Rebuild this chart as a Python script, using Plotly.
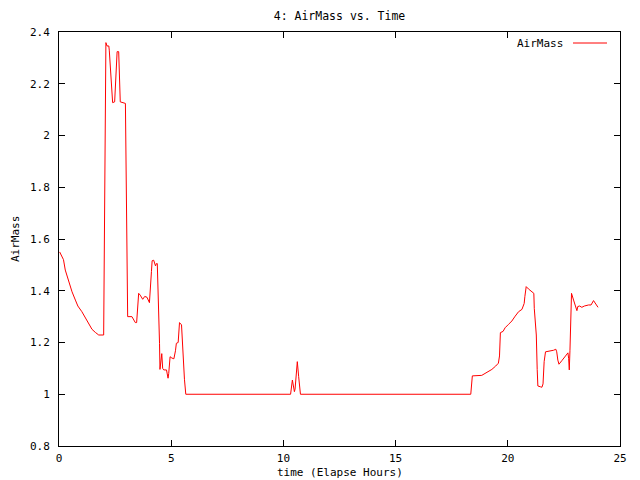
import plotly.graph_objects as go

# elapsed time (hours) and airmass
time_hours = [0.03, 0.2, 0.28, 0.43, 0.58, 0.73, 0.84, 1.02, 1.17, 1.32, 1.47, 1.62, 1.77, 1.99,
              2.02, 2.05, 2.09, 2.14, 2.22, 2.24, 2.3, 2.36, 2.39, 2.48, 2.51, 2.54, 2.59, 2.66,
              2.69, 2.73, 2.96, 2.99, 3.03, 3.06, 3.25, 3.40, 3.46, 3.48, 3.55, 3.62, 3.73, 3.82,
              3.92, 4.03, 4.07, 4.12, 4.15, 4.22, 4.3, 4.34, 4.38, 4.42, 4.48, 4.50, 4.55, 4.58,
              4.62, 4.67, 4.79, 4.86, 4.89, 4.95, 5.03, 5.12, 5.19, 5.23, 5.31, 5.37, 5.46, 5.53,
              5.59, 5.65,
              10.32, 10.40, 10.49, 10.52, 10.62, 10.68, 10.76,
              18.35, 18.42, 18.84, 19.06, 19.29, 19.46, 19.58, 19.63, 19.67, 19.79, 19.88, 20.03,
              20.18, 20.33, 20.48, 20.63, 20.73, 20.76, 20.82, 20.92, 21.07, 21.16, 21.18, 21.27,
              21.31, 21.34, 21.45, 21.52, 21.57, 21.62, 21.68, 21.89, 22.04, 22.14, 22.18, 22.23,
              22.28, 22.41, 22.53, 22.64, 22.68, 22.71, 22.74, 22.77, 22.80, 22.84, 22.93, 23.02,
              23.08, 23.12, 23.2, 23.3, 23.41, 23.6, 23.71, 23.82, 23.91, 24.02]
airmass = [1.55, 1.52, 1.48, 1.435, 1.396, 1.364, 1.341, 1.319, 1.297, 1.271, 1.251, 1.239, 1.229, 1.229,
           1.512, 2.075, 2.359, 2.346, 2.346, 2.33, 2.246, 2.165, 2.127, 2.13, 2.176, 2.272, 2.324, 2.324,
           2.23, 2.13, 2.124, 1.918, 1.507, 1.30, 1.30, 1.277, 1.277, 1.305, 1.39, 1.383, 1.367, 1.378,
           1.375, 1.354, 1.396, 1.474, 1.516, 1.518, 1.496, 1.505, 1.505, 1.403, 1.197, 1.096, 1.139, 1.157,
           1.10, 1.094, 1.094, 1.062, 1.08, 1.145, 1.14, 1.137, 1.168, 1.197, 1.20, 1.277, 1.268, 1.126,
           1.058, 1.0,
           1.0, 1.055, 1.01, 1.02, 1.126, 1.068, 1.0,
           1.0, 1.071, 1.073, 1.083, 1.096, 1.109, 1.12, 1.148, 1.238, 1.243, 1.257, 1.27,
           1.283, 1.302, 1.319, 1.328, 1.351, 1.377, 1.416, 1.407, 1.396, 1.39, 1.332, 1.229,
           1.096, 1.032, 1.029, 1.027, 1.04, 1.126, 1.164, 1.167, 1.17, 1.174, 1.164, 1.132,
           1.116, 1.13, 1.143, 1.156, 1.16, 1.139, 1.094, 1.17, 1.287, 1.39, 1.364, 1.339,
           1.323, 1.339, 1.341, 1.336, 1.341, 1.345, 1.345, 1.362, 1.35, 1.336]

x_ticks = [0, 5, 10, 15, 20, 25]
y_ticks = [0.8, 1.0, 1.2, 1.4, 1.6, 1.8, 2.0, 2.2, 2.4]
y_labels = ["0.8", "1", "1.2", "1.4", "1.6", "1.8", "2", "2.2", "2.4"]

mono = "DejaVu Sans Mono"

fig = go.Figure()
fig.add_trace(go.Scatter(x=time_hours, y=airmass, mode="lines", name="AirMass",
                         line=dict(color="#ff0000", width=1), showlegend=False))

axis_style = dict(showline=True, linecolor="black", linewidth=1, mirror="allticks",
                  ticks="inside", ticklen=6, tickcolor="black", showgrid=False,
                  zeroline=False, tickfont=dict(family=mono, size=11, color="black"))

fig.update_xaxes(range=[0, 25], tickvals=x_ticks, ticklabelstandoff=2, **axis_style)
fig.update_yaxes(range=[0.8, 2.4], tickvals=y_ticks, ticktext=y_labels,
                 ticklabelstandoff=6, **axis_style)

# page body has an 8px margin, so the figure is a bit smaller than the window
fig.update_layout(
    width=632, height=472,
    margin=dict(l=51, r=20, t=24, b=34),
    paper_bgcolor="white", plot_bgcolor="white",
    font=dict(family=mono, size=11, color="black"),
    title=dict(text="4: AirMass vs. Time", xref="paper", x=0.5, xanchor="center",
               y=1 - 8 / 472, yanchor="middle", font=dict(family=mono, size=11.5)),
)

# axis titles
fig.add_annotation(text="time (Elapse Hours)", xref="paper", yref="paper", x=0.5, y=-26 / 414,
                   xanchor="center", yanchor="middle", showarrow=False,
                   font=dict(family=mono, size=11))
fig.add_annotation(text="AirMass", xref="paper", yref="paper", x=-44 / 561, y=0.5,
                   textangle=-90, xanchor="center", yanchor="middle", showarrow=False,
                   font=dict(family=mono, size=11))

# gnuplot-style key: text then line sample
fig.add_annotation(text="AirMass", xref="paper", yref="paper", x=(565 - 59) / 561, y=1 - 11 / 414,
                   xanchor="right", yanchor="middle", showarrow=False,
                   font=dict(family=mono, size=11))
fig.add_shape(type="line", xref="paper", yref="paper", x0=(573 - 59) / 561, x1=(607 - 59) / 561,
              y0=1 - 11 / 414, y1=1 - 11 / 414, line=dict(color="#ff0000", width=1))

fig.write_html("out.html")
